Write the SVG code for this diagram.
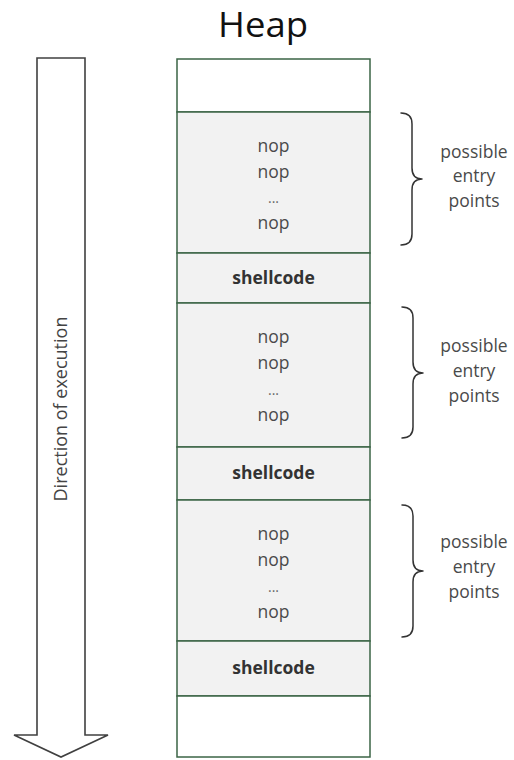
<svg xmlns="http://www.w3.org/2000/svg" width="514" height="760" viewBox="0 0 514 760">
  <style>
    .cell { stroke: #3b6446; stroke-width: 1.5; }
    .blank { fill: #ffffff; }
    .filled { fill: #f2f2f2; }
    .nop { font-family: "Open Sans", "Liberation Sans", sans-serif; font-size: 17.5px; fill: #4a4a4a; text-anchor: middle; }
    .dots { font-family: "Open Sans", "Liberation Sans", sans-serif; font-size: 14px; fill: #666666; text-anchor: middle; }
    .sc { font-family: "Open Sans", "Liberation Sans", sans-serif; font-size: 17.5px; font-weight: bold; fill: #333333; text-anchor: middle; }
    .lbl { font-family: "Open Sans", "Liberation Sans", sans-serif; font-size: 17.5px; fill: #4a4a4a; text-anchor: middle; }
    .brace { fill: none; stroke: #333333; stroke-width: 1.5; stroke-linecap: round; stroke-linejoin: round; }
  </style>

  <!-- Title -->
  <text x="263" y="37" font-family="'Open Sans', 'Liberation Sans', sans-serif" font-size="34" fill="#111111" text-anchor="middle" textLength="90" lengthAdjust="spacingAndGlyphs">Heap</text>

  <!-- Execution direction arrow -->
  <g id="direction">
    <path d="M37,58 H85 V735 H108 L61,757 L14,735 H37 Z" fill="#ffffff" stroke="#404040" stroke-width="1.6" stroke-linejoin="miter"/>
    <text transform="translate(67,409) rotate(-90)" x="0" y="0" font-family="'Open Sans', 'Liberation Sans', sans-serif" font-size="18" fill="#444444" text-anchor="middle">Direction of execution</text>
  </g>

  <!-- Heap cells -->
  <g id="cell-top">
    <rect class="cell blank" x="177" y="59" width="193" height="53"/>
  </g>

  <g id="nops-1">
    <rect class="cell filled" x="177" y="112" width="193" height="141"/>
    <text class="nop" x="273.5" y="152">nop</text>
    <text class="nop" x="273.5" y="178">nop</text>
    <text class="dots" x="273.5" y="203">...</text>
    <text class="nop" x="273.5" y="229">nop</text>
  </g>

  <g id="shellcode-1">
    <rect class="cell filled" x="177" y="253" width="193" height="50"/>
    <text class="sc" x="273.5" y="284">shellcode</text>
  </g>

  <g id="nops-2">
    <rect class="cell filled" x="177" y="303" width="193" height="144"/>
    <text class="nop" x="273.5" y="343">nop</text>
    <text class="nop" x="273.5" y="369">nop</text>
    <text class="dots" x="273.5" y="395">...</text>
    <text class="nop" x="273.5" y="421">nop</text>
  </g>

  <g id="shellcode-2">
    <rect class="cell filled" x="177" y="447" width="193" height="53"/>
    <text class="sc" x="273.5" y="479">shellcode</text>
  </g>

  <g id="nops-3">
    <rect class="cell filled" x="177" y="500" width="193" height="141"/>
    <text class="nop" x="273.5" y="540">nop</text>
    <text class="nop" x="273.5" y="566">nop</text>
    <text class="dots" x="273.5" y="592">...</text>
    <text class="nop" x="273.5" y="618">nop</text>
  </g>

  <g id="shellcode-3">
    <rect class="cell filled" x="177" y="641" width="193" height="55"/>
    <text class="sc" x="273.5" y="674">shellcode</text>
  </g>

  <g id="cell-bottom">
    <rect class="cell blank" x="177" y="696" width="193" height="61"/>
  </g>

  <!-- Braces marking the entry ranges -->
  <g id="connectors">
    <path class="brace" d="M401,113 Q412,113 412,124 V168 Q412,179 422,179 Q412,179 412,190 V234 Q412,245 401,245"/>
    <path class="brace" d="M402,307 Q413,307 413,318 V362 Q413,373 423,373 Q413,373 413,384 V427 Q413,438 402,438"/>
    <path class="brace" d="M402,505 Q413,505 413,516 V560 Q413,571 423,571 Q413,571 413,582 V626 Q413,637 402,637"/>
  </g>

  <g id="entry-label-1">
    <text class="lbl" x="474" y="158">possible</text>
    <text class="lbl" x="474" y="182">entry</text>
    <text class="lbl" x="474" y="207">points</text>
  </g>
  <g id="entry-label-2">
    <text class="lbl" x="474" y="352">possible</text>
    <text class="lbl" x="474" y="377">entry</text>
    <text class="lbl" x="474" y="402">points</text>
  </g>
  <g id="entry-label-3">
    <text class="lbl" x="474" y="548">possible</text>
    <text class="lbl" x="474" y="573">entry</text>
    <text class="lbl" x="474" y="598">points</text>
  </g>
</svg>
